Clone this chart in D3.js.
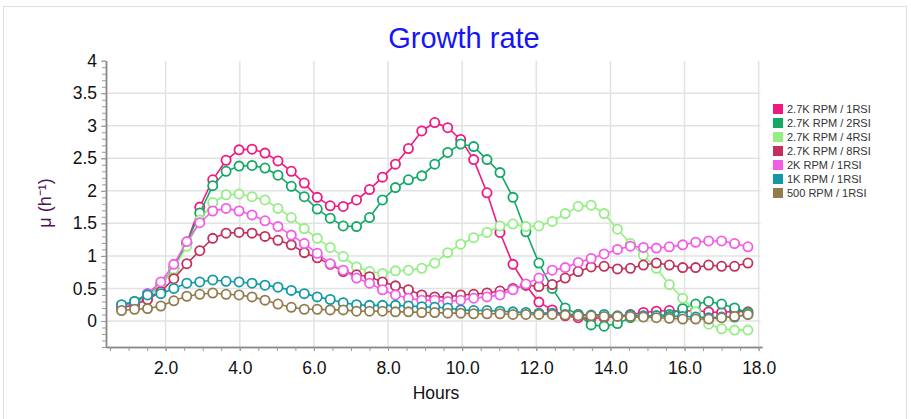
<!DOCTYPE html>
<html>
<head>
<meta charset="utf-8">
<script src="https://cdn.jsdelivr.net/npm/d3@7"></script>
<style>
  body { margin: 0; background: #fff; }
  svg text { font-family: "Liberation Sans", Arial, sans-serif; }
</style>
</head>
<body>
<div class="chart"></div>
<script>
// sample times (hours)
var hours = [0.81,1.16,1.51,1.87,2.22,2.57,2.92,3.27,3.63,3.98,4.33,4.68,5.03,5.39,5.74,6.09,6.44,6.79,7.15,7.50,7.85,8.20,8.55,8.91,9.26,9.61,9.96,10.31,10.67,11.02,11.37,11.72,12.07,12.43,12.78,13.13,13.48,13.83,14.19,14.54,14.89,15.24,15.59,15.95,16.30,16.65,17.00,17.35,17.71];

// growth rate series
var rpm27_1rsi = [0.22,0.27,0.38,0.55,0.82,1.20,1.75,2.17,2.47,2.63,2.64,2.58,2.46,2.30,2.12,1.90,1.77,1.76,1.86,2.02,2.21,2.41,2.65,2.92,3.05,2.97,2.79,2.48,1.97,1.36,0.87,0.55,0.29,0.17,0.08,0.05,0.04,0.05,0.07,0.10,0.13,0.15,0.16,0.15,0.16,0.14,0.13,0.15,0.14];
var rpm27_2rsi = [0.24,0.30,0.42,0.55,0.80,1.20,1.66,2.08,2.30,2.38,2.39,2.35,2.24,2.07,1.91,1.72,1.58,1.46,1.45,1.59,1.86,2.05,2.17,2.23,2.41,2.59,2.72,2.68,2.48,2.28,1.90,1.37,0.89,0.50,0.20,0.10,-0.06,-0.08,-0.04,0.05,0.07,0.08,0.10,0.19,0.26,0.30,0.26,0.20,0.13];
var rpm27_4rsi = [0.20,0.28,0.38,0.55,0.80,1.15,1.55,1.82,1.94,1.95,1.91,1.86,1.73,1.59,1.42,1.27,1.13,0.99,0.83,0.76,0.73,0.77,0.78,0.81,0.89,1.05,1.18,1.28,1.36,1.46,1.49,1.45,1.46,1.53,1.65,1.76,1.78,1.65,1.41,1.19,1.01,0.81,0.56,0.35,0.14,-0.05,-0.12,-0.14,-0.14];
var rpm27_8rsi = [0.20,0.25,0.33,0.45,0.65,0.88,1.08,1.27,1.35,1.36,1.35,1.30,1.24,1.17,1.05,0.97,0.87,0.76,0.71,0.68,0.60,0.54,0.48,0.40,0.37,0.37,0.40,0.41,0.43,0.46,0.50,0.55,0.53,0.56,0.66,0.76,0.83,0.84,0.80,0.81,0.86,0.89,0.86,0.82,0.82,0.86,0.84,0.84,0.89];
var rpm2k_1rsi = [0.22,0.29,0.42,0.60,0.87,1.22,1.51,1.69,1.73,1.69,1.63,1.54,1.45,1.32,1.19,1.04,0.88,0.78,0.66,0.58,0.48,0.40,0.35,0.32,0.32,0.30,0.32,0.35,0.37,0.40,0.48,0.57,0.66,0.78,0.82,0.90,0.96,1.03,1.10,1.15,1.13,1.12,1.14,1.17,1.21,1.23,1.23,1.19,1.14];
var rpm1k_1rsi = [0.25,0.30,0.40,0.42,0.50,0.58,0.60,0.63,0.61,0.60,0.58,0.55,0.52,0.47,0.42,0.37,0.33,0.28,0.25,0.24,0.24,0.24,0.23,0.22,0.21,0.20,0.17,0.16,0.16,0.15,0.14,0.13,0.12,0.12,0.10,0.10,0.09,0.10,0.08,0.09,0.08,0.08,0.07,0.07,0.06,0.05,0.06,0.06,0.10];
var rpm500_1rsi = [0.16,0.18,0.19,0.23,0.31,0.38,0.41,0.43,0.41,0.40,0.37,0.32,0.26,0.21,0.18,0.18,0.17,0.17,0.15,0.15,0.15,0.14,0.14,0.13,0.13,0.12,0.12,0.11,0.11,0.11,0.10,0.10,0.10,0.10,0.09,0.08,0.08,0.07,0.07,0.07,0.06,0.05,0.04,0.03,0.03,0.03,0.05,0.07,0.10];

var seriesNames = ["2.7K RPM / 1RSI", "2.7K RPM / 2RSI", "2.7K RPM / 4RSI", "2.7K RPM / 8RSI", "2K RPM / 1RSI", "1K RPM / 1RSI", "500 RPM / 1RSI"];
var seriesValues = [rpm27_1rsi, rpm27_2rsi, rpm27_4rsi, rpm27_8rsi, rpm2k_1rsi, rpm1k_1rsi, rpm500_1rsi];
var seriesColors = ["#ee1a82", "#12a866", "#94ee84", "#c2305c", "#f35ce6", "#1199a6", "#927b4c"];

// axis ticks
var xTicks = [2, 4, 6, 8, 10, 12, 14, 16, 18];
var yTicks = [0, 0.5, 1, 1.5, 2, 2.5, 3, 3.5, 4];

var width = 911, height = 419;

var svg = d3.select('.chart')
	.append('svg')
	.attr('width', width)
	.attr('height', height);

// outer frame
svg.append('rect')
	.attr('x', 3.5).attr('y', 6.5)
	.attr('width', 903).attr('height', 430)
	.attr('fill', 'none')
	.attr('stroke', '#dedede');

var x = d3.scaleLinear().domain([0.39, 18.09]).range([106, 762]);
var y = d3.scaleLinear().domain([-0.4, 4]).range([347, 60.7]);

// grid
svg.append('g')
	.selectAll('line.hgrid')
	.data(yTicks.filter(function (d) { return d < 4; }))
	.enter().append('line')
	.attr('x1', x.range()[0]).attr('x2', x(18.05))
	.attr('y1', function (d) { return y(d); })
	.attr('y2', function (d) { return y(d); })
	.attr('stroke', '#e2e2e2').attr('stroke-width', 1.5);

svg.append('g')
	.selectAll('line.vgrid')
	.data(xTicks)
	.enter().append('line')
	.attr('x1', function (d) { return x(d); })
	.attr('x2', function (d) { return x(d); })
	.attr('y1', y(4)).attr('y2', y.range()[0])
	.attr('stroke', '#e2e2e2').attr('stroke-width', 1.5);

// x axis
var minorX = d3.range(0.5, 18.01, 0.5);
svg.append('g')
	.attr('class', 'x minor')
	.attr('transform', 'translate(0,' + y.range()[0] + ')')
	.call(d3.axisBottom(x).tickValues(minorX).tickSize(4).tickSizeOuter(0).tickFormat(''));

svg.append('g')
	.attr('class', 'x axis')
	.attr('transform', 'translate(0,' + y.range()[0] + ')')
	.call(d3.axisBottom(x).tickValues(xTicks).tickSize(4).tickSizeOuter(0).tickPadding(11).tickFormat(d3.format('.1f')));

// y axis
var minorY = d3.range(-0.4, 4.001, 0.1);
svg.append('g')
	.attr('class', 'y minor')
	.attr('transform', 'translate(' + x.range()[0] + ',0)')
	.call(d3.axisLeft(y).tickValues(minorY).tickSize(4).tickSizeOuter(0).tickFormat(''));

svg.append('g')
	.attr('class', 'y axis')
	.attr('transform', 'translate(' + x.range()[0] + ',0)')
	.call(d3.axisLeft(y).tickValues(yTicks).tickSize(5).tickSizeOuter(0).tickPadding(4).tickFormat(function (d) { return String(d); }));

svg.selectAll('.axis path, .minor path').attr('stroke', '#8a8a8a').attr('stroke-width', 1.5);
svg.selectAll('.axis line, .minor line').attr('stroke', '#9a9a9a');
svg.selectAll('.axis text').attr('font-size', 17.5).attr('fill', '#111');

// titles
svg.append('text')
	.attr('x', 464).attr('y', 48)
	.attr('text-anchor', 'middle')
	.attr('font-size', 29)
	.attr('fill', '#1515f5')
	.text('Growth rate');

svg.append('text')
	.attr('x', 436).attr('y', 399)
	.attr('text-anchor', 'middle')
	.attr('font-size', 17.5)
	.attr('fill', '#111')
	.text('Hours');

svg.append('text')
	.attr('transform', 'translate(51,203) rotate(-90)')
	.attr('text-anchor', 'middle')
	.attr('font-size', 18)
	.attr('fill', '#4a1458')
	.text('μ (h⁻¹)');

// series
var line = d3.line()
	.x(function (d, i) { return x(hours[i]); })
	.y(function (d) { return y(d); });

seriesValues.forEach(function (vals, k) {
	var g = svg.append('g').attr('class', 'series');
	g.append('path')
		.datum(vals)
		.attr('d', line)
		.attr('fill', 'none')
		.attr('stroke', seriesColors[k])
		.attr('stroke-width', 1.6);
	g.selectAll('circle')
		.data(vals)
		.enter().append('circle')
		.attr('cx', function (d, i) { return x(hours[i]); })
		.attr('cy', function (d) { return y(d); })
		.attr('r', 4.6)
		.attr('fill', '#fff')
		.attr('stroke', seriesColors[k])
		.attr('stroke-width', 1.8);
});

// legend
var legend = svg.append('g')
	.attr('transform', 'translate(773,104)');

var item = legend.selectAll('g')
	.data(seriesNames)
	.enter().append('g')
	.attr('transform', function (d, i) { return 'translate(0,' + (i * 14) + ')'; });

item.append('rect')
	.attr('width', 10).attr('height', 10)
	.attr('fill', function (d, i) { return seriesColors[i]; });

item.append('text')
	.attr('x', 14).attr('y', 9)
	.attr('font-size', 11)
	.attr('fill', '#333')
	.text(function (d) { return d; });
</script>
</body>
</html>
